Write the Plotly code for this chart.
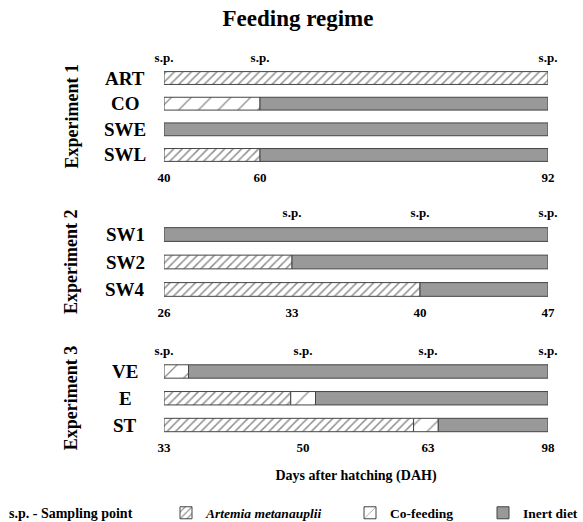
import numpy as np
import plotly.graph_objects as go

# ---------------- data ----------------
TITLE = "Feeding regime"
X_TITLE = "Days after hatching (DAH)"
SP_NOTE = "s.p. - Sampling point"
FEED_NAMES = ["<i>Artemia metanauplii</i>", "Co-feeding", "Inert diet"]
EXPERIMENTS = ["Experiment 1", "Experiment 2", "Experiment 3"]

# Experiment 1 (days after hatching)
exp1_treatments = ["ART", "CO", "SWE", "SWL"]
exp1_start, exp1_end = 40, 92
exp1_artemia_end = [92, 40, 40, 60]
exp1_cofeed_end = [92, 60, 40, 60]
exp1_ticks = [40, 60, 92]
exp1_sampling = [40, 60, 92]

# Experiment 2
exp2_treatments = ["SW1", "SW2", "SW4"]
exp2_start, exp2_end = 26, 47
exp2_artemia_end = [26, 33, 40]
exp2_cofeed_end = [26, 33, 40]
exp2_ticks = [26, 33, 40, 47]
exp2_sampling = [33, 40, 47]

# Experiment 3
exp3_treatments = ["VE", "E", "ST"]
exp3_start, exp3_end = 33, 98
exp3_artemia_end = [33, 48.5, 61.5]
exp3_cofeed_end = [36, 51.3, 66]
exp3_ticks = [33, 50, 63, 98]
exp3_sampling = [33, 50, 63, 98]

# ---------------- schematic (non-linear) time scale of each panel ----------------
# the original drawing is schematic: tick days sit at these fractions of the bar length
exp1_scale = ([40, 60, 92], [0.0, 0.25, 1.0])
exp2_scale = ([26, 47], [0.0, 1.0])
exp3_scale = ([33, 50, 63, 98], [0.0, 0.362, 0.6875, 1.0])

W, H = 583, 522
FONT = "Liberation Serif"
HATCH = "#1e1e1e"
INERT = "#999999"
OUTLINE = "#444444"

panels = [
    dict(tr=exp1_treatments, s=exp1_start, e=exp1_end, a=exp1_artemia_end, c=exp1_cofeed_end,
         ticks=exp1_ticks, sp=exp1_sampling, scale=exp1_scale, top=65.2, bot=167.8),
    dict(tr=exp2_treatments, s=exp2_start, e=exp2_end, a=exp2_artemia_end, c=exp2_cofeed_end,
         ticks=exp2_ticks, sp=exp2_sampling, scale=exp2_scale, top=220.8, bot=303.2),
    dict(tr=exp3_treatments, s=exp3_start, e=exp3_end, a=exp3_artemia_end, c=exp3_cofeed_end,
         ticks=exp3_ticks, sp=exp3_sampling, scale=exp3_scale, top=358.1, bot=438.4),
]


def warp(days, scale, lo, hi):
    d_anchor, f_anchor = scale
    return lo + np.interp(np.asarray(days, dtype=float), d_anchor, f_anchor) * (hi - lo)


styles = [
    dict(color="white", pattern=dict(shape="/", size=6, solidity=0.25, fgcolor=HATCH, bgcolor="white")),
    dict(color="white", pattern=dict(shape="/", size=14, solidity=0.09, fgcolor=HATCH, bgcolor="white")),
    dict(color=INERT),
]
legend_ids = ["legend", "legend2", "legend3"]

fig = go.Figure()
x_dom = [164 / W, 548 / W]
annotations = []
layout_axes = {}
tick_font = dict(size=13, family=FONT, color="black", weight="bold")

for i, p in enumerate(panels, start=1):
    lo, hi = p["s"], p["e"]
    n = len(p["tr"])
    starts = [lo] * n
    ends = [hi] * n
    segs = [(starts, p["a"]), (p["a"], p["c"]), (p["c"], ends)]
    xname = "x" if i == 1 else f"x{i}"
    yname = "y" if i == 1 else f"y{i}"
    for k, (b0, b1) in enumerate(segs):
        ys, bases, lens = [], [], []
        for t, d0, d1 in zip(p["tr"], b0, b1):
            if d1 > d0:
                w0 = float(warp(d0, p["scale"], lo, hi))
                w1 = float(warp(d1, p["scale"], lo, hi))
                ys.append(t)
                bases.append(w0)
                lens.append(w1 - w0)
        marker = dict(line=dict(color=OUTLINE, width=1), **styles[k])
        fig.add_trace(go.Bar(
            y=ys, x=lens, base=bases, orientation="h", width=0.5,
            marker=marker, name=FEED_NAMES[k], xaxis=xname, yaxis=yname,
            showlegend=(i == 1), legend=legend_ids[k], hoverinfo="skip",
        ))
    # sampling points (invisible markers that carry the top "s.p." axis)
    fig.add_trace(go.Scatter(
        x=list(warp(p["sp"], p["scale"], lo, hi)), y=[p["tr"][0]] * len(p["sp"]),
        mode="markers", marker=dict(opacity=0, size=1), xaxis=f"x{i + 3}", yaxis=yname,
        showlegend=False, hoverinfo="skip", name="Sampling point",
    ))

    y_dom = [1 - p["bot"] / H, 1 - p["top"] / H]
    xkey = "xaxis" if i == 1 else f"xaxis{i}"
    ykey = "yaxis" if i == 1 else f"yaxis{i}"
    layout_axes[xkey] = dict(
        domain=x_dom, range=[lo, hi], anchor=yname,
        tickvals=list(warp(p["ticks"], p["scale"], lo, hi)),
        ticktext=[str(t) for t in p["ticks"]],
        showgrid=False, zeroline=False, showline=False, ticks="",
        tickfont=tick_font, automargin=False,
    )
    layout_axes[ykey] = dict(
        domain=y_dom, anchor=xname, type="category",
        categoryorder="array", categoryarray=p["tr"], range=[n - 0.5, -0.5],
        showticklabels=False, showgrid=False, zeroline=False, showline=False,
        automargin=False,
    )
    layout_axes[f"xaxis{i + 3}"] = dict(
        overlaying=xname, anchor=yname, side="top", range=[lo, hi],
        tickvals=list(warp(p["sp"], p["scale"], lo, hi)),
        ticktext=["s.p."] * len(p["sp"]),
        showgrid=False, zeroline=False, showline=False, ticks="",
        tickfont=tick_font, automargin=False,
    )
    for t in p["tr"]:
        annotations.append(dict(
            x=125 / W, xref="paper", y=t, yref=yname, text=t, showarrow=False,
            xanchor="center", yanchor="middle",
            font=dict(size=19, family=FONT, color="black", weight="bold"),
        ))
    annotations.append(dict(
        x=71 / W, xref="paper", y=(y_dom[0] + y_dom[1]) / 2, yref="paper",
        text=EXPERIMENTS[i - 1], textangle=-90, showarrow=False,
        xanchor="center", yanchor="middle",
        font=dict(size=18, family=FONT, color="black", weight="bold"),
    ))

layout_axes["xaxis3"]["title"] = dict(
    text=X_TITLE, standoff=15,
    font=dict(size=14, family=FONT, color="black", weight="bold"),
)

LEG_Y = 1 - 513 / H
annotations.append(dict(
    x=71 / W, xref="paper", y=LEG_Y, yref="paper", text=SP_NOTE,
    showarrow=False, xanchor="center", yanchor="middle",
    font=dict(size=14, family=FONT, color="black", weight="bold"),
))

leg_font = dict(size=13.5, family=FONT, color="black", weight="bold")
legend_x = [166, 350, 483]
legends = {}
for j, lid in enumerate(legend_ids):
    legends[lid] = dict(
        x=legend_x[j] / W, y=LEG_Y, xanchor="left", yanchor="middle",
        orientation="h", font=leg_font, bgcolor="rgba(0,0,0,0)",
        borderwidth=0, itemclick=False, itemdoubleclick=False,
    )

fig.update_layout(
    width=W, height=H, margin=dict(l=0, r=0, t=0, b=0, autoexpand=False),
    paper_bgcolor="white", plot_bgcolor="white",
    barmode="overlay",
    font=dict(family=FONT, color="black"),
    title=dict(text=TITLE, x=298 / W, y=1 - 18 / H, xanchor="center", yanchor="middle",
               font=dict(size=23, family=FONT, color="black", weight="bold")),
    annotations=annotations,
    **layout_axes,
    **legends,
)

fig.write_html(
    "out.html", config={"displayModeBar": False},
    post_script="document.body.style.margin='0';document.body.style.overflow='hidden';",
)
